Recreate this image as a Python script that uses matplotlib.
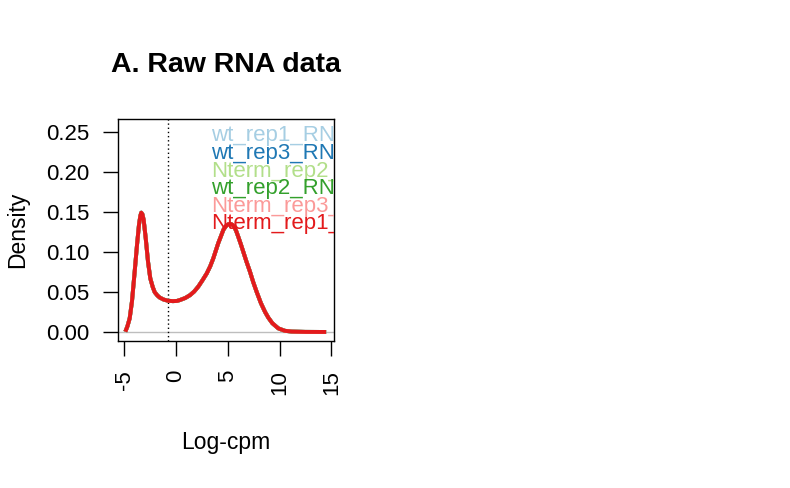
import matplotlib

matplotlib.use("Agg")
import matplotlib.pyplot as plt

plt.rcParams["font.family"] = ["Liberation Sans", "DejaVu Sans"]

# samples in legend / drawing order (last drawn on top)
sample_names = ["wt_rep1_RNA", "wt_rep3_RNA", "Nterm_rep2_RNA",
                "wt_rep2_RNA", "Nterm_rep3_RNA", "Nterm_rep1_RNA"]
sample_colors = ["#A6CEE3", "#1F78B4", "#B2DF8A", "#33A02C", "#FB9A99", "#E31A1C"]

# density of log-cpm (all six samples overlap)
logcpm = [-4.9, -4.7, -4.48, -4.26, -4.0, -3.77, -3.58, -3.45, -3.36, -3.25,
          -3.13, -2.93, -2.71, -2.49, -2.25, -2.06, -1.8, -1.58, -1.2, -0.78,
          -0.3, 0.1, 0.4, 0.9, 1.35, 1.75, 2.15, 2.55, 2.96, 3.3, 3.6, 4.08,
          4.35, 4.57, 4.8, 5.05, 5.28, 5.45, 5.6, 5.8, 6.01, 6.25, 6.5, 6.8,
          7.14, 7.45, 7.79, 8.2, 8.6, 8.91, 9.3, 9.88, 10.5, 11.17, 12.5, 14.5]
density = [0.0004, 0.007, 0.017, 0.038, 0.075, 0.109, 0.134, 0.145, 0.149, 0.147,
           0.14, 0.117, 0.088, 0.067, 0.056, 0.0496, 0.0455, 0.043, 0.0405, 0.039,
           0.0385, 0.0388, 0.040, 0.0425, 0.046, 0.0505, 0.0567, 0.0645, 0.073,
           0.082, 0.092, 0.111, 0.12, 0.1275, 0.132, 0.1346, 0.135, 0.1338, 0.1317,
           0.1265, 0.119, 0.110, 0.100, 0.088, 0.0754, 0.0625, 0.050, 0.036, 0.025,
           0.018, 0.011, 0.0045, 0.0015, 0.0005, 0.0001, 0.0]

cutoff = -0.81
xticks = [-5, 0, 5, 10, 15]
yticks = [0.00, 0.05, 0.10, 0.15, 0.20, 0.25]

W, H = 790, 488
fig = plt.figure(figsize=(W / 100, H / 100), dpi=100)
ax = fig.add_axes([118.3 / W, 1 - 340.7 / H, 216 / W, 221.7 / H])

ax.axhline(0, color="#BEBEBE", lw=1, zorder=1)
ax.axvline(cutoff, color="black", lw=1, linestyle=(0, (1, 2)), zorder=1)
for name, col in zip(sample_names, sample_colors):
    ax.plot(logcpm, density, color=col, lw=2.8, zorder=2,
            solid_joinstyle="round", solid_capstyle="butt")

ax.set_xlim(-5.58, 15.29)
ax.set_ylim(-0.0109, 0.266)
ax.set_xticks(xticks)
ax.set_xticklabels([str(t) for t in xticks], rotation=90, fontsize=16)
ax.set_yticks(yticks)
ax.set_yticklabels([f"{t:.2f}" for t in yticks], fontsize=16)
ax.tick_params(direction="out", length=11, width=1, pad=10)
for sp in ax.spines.values():
    sp.set_linewidth(1)

# legend text, clipped at the plot box like the original
ytop = 0.245
for i, (name, col) in enumerate(zip(sample_names, sample_colors)):
    ax.text(3.35, ytop - i * 0.022, name, color=col, fontsize=16,
            ha="left", va="center", clip_on=True, zorder=3)

fig.text(226 / W, 1 - 72 / H, "A. Raw RNA data", fontsize=20.5,
         fontweight="bold", ha="center", va="baseline")
fig.text(226 / W, 1 - 443 / H, "Log-cpm", fontsize=16.5, ha="center", va="center")
fig.text(18 / W, 1 - 230 / H, "Density", fontsize=16.5, rotation=90,
         ha="center", va="center")

fig.savefig("out.png", dpi=100)
